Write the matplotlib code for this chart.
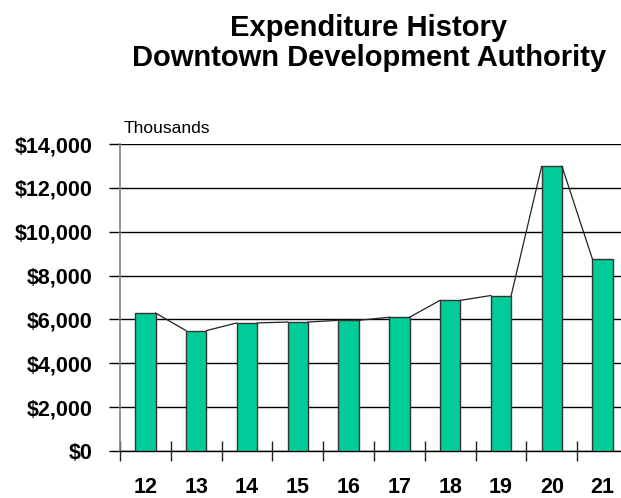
import numpy as np
import matplotlib.pyplot as plt
from matplotlib.ticker import FuncFormatter

# fiscal years and spending (thousands of dollars)
years = ['12', '13', '14', '15', '16', '17', '18', '19', '20', '21']
spending = [6290, 5490, 5840, 5880, 5960, 6100, 6870, 7090, 12980, 8750]

bar_color = '#00CC99'
bar_w = 0.4

plt.rcParams['font.family'] = ['Liberation Sans', 'DejaVu Sans']

fig = plt.figure(figsize=(6.21, 4.98), dpi=100)
ax = fig.add_axes([120/621, 47/498, 508/621, 307/498])

x = np.arange(len(years))
ax.bar(x, spending, width=bar_w, color=bar_color, edgecolor='#333333',
       linewidth=1.0, zorder=3)

# series lines joining the top corners of neighbouring bars
for i in range(len(years) - 1):
    ax.plot([x[i] + bar_w/2, x[i+1] - bar_w/2], [spending[i], spending[i+1]],
            color='#222222', lw=0.9, zorder=4)

ax.set_xlim(-0.5, len(years) - 0.5)
ax.set_ylim(0, 14000)
ax.set_yticks(np.arange(0, 14001, 2000))
ax.yaxis.set_major_formatter(FuncFormatter(lambda v, p: '${:,.0f}'.format(v)))
ax.grid(axis='y', color='black', lw=1.0, zorder=1)

ax.set_xticks(x)
ax.set_xticklabels(years)
ax.set_xticks(np.arange(-0.5, len(years)), minor=True)
ax.tick_params(axis='x', which='major', length=0, pad=19,
               labelsize=15.5)
ax.tick_params(axis='x', which='minor', direction='inout', length=15,
               width=1, color='#222222')
for lab in ax.get_xticklabels():
    lab.set_fontweight('bold')

ax.tick_params(axis='y', direction='out', length=8, width=1, color='black',
               pad=11.5, labelsize=15.5)
for lab in ax.get_yticklabels():
    lab.set_fontweight('bold')

for s in ['top', 'right']:
    ax.spines[s].set_visible(False)
ax.spines['left'].set_color('#808080')
ax.spines['left'].set_linewidth(1.2)
ax.spines['bottom'].set_color('black')
ax.spines['bottom'].set_linewidth(1.0)

ax.text(0.008, 1.025, 'Thousands', transform=ax.transAxes, fontsize=12.5,
        ha='left', va='bottom')

fig.text(369/621, 1 - 43/498, 'Expenditure History\nDowntown Development Authority',
         ha='center', va='center', fontsize=21, fontweight='bold',
         linespacing=1.05)

fig.savefig('out.png', dpi=100)
